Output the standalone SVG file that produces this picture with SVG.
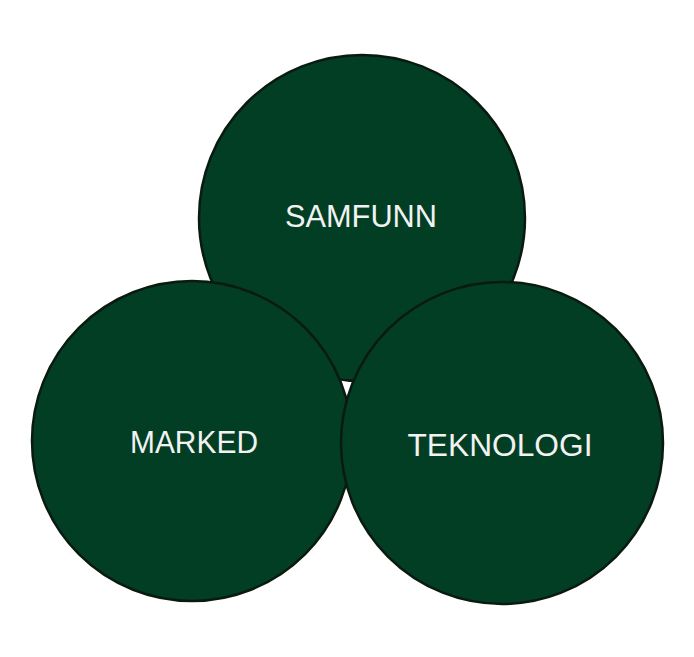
<svg xmlns="http://www.w3.org/2000/svg" width="694" height="657" viewBox="0 0 694 657">
<style>
.c{fill:#023e24;stroke:#0a1a10;stroke-width:2.5}
.t{font-family:"Liberation Sans",Arial,sans-serif;font-size:31px;fill:#f2f2f2;text-anchor:middle}
</style>
<rect width="694" height="657" fill="#ffffff"/>
<g id="samfunn">
<circle class="c" cx="362" cy="218" r="163"/>
<text class="t" x="361" y="227" textLength="152" lengthAdjust="spacingAndGlyphs">SAMFUNN</text>
</g>
<g id="marked">
<circle class="c" cx="192" cy="441" r="160"/>
<text class="t" x="194" y="453" textLength="128" lengthAdjust="spacingAndGlyphs">MARKED</text>
</g>
<g id="teknologi">
<circle class="c" cx="502" cy="443" r="161"/>
<text class="t" x="500" y="456" textLength="185" lengthAdjust="spacingAndGlyphs">TEKNOLOGI</text>
</g>
<g id="connectors"></g>
</svg>
